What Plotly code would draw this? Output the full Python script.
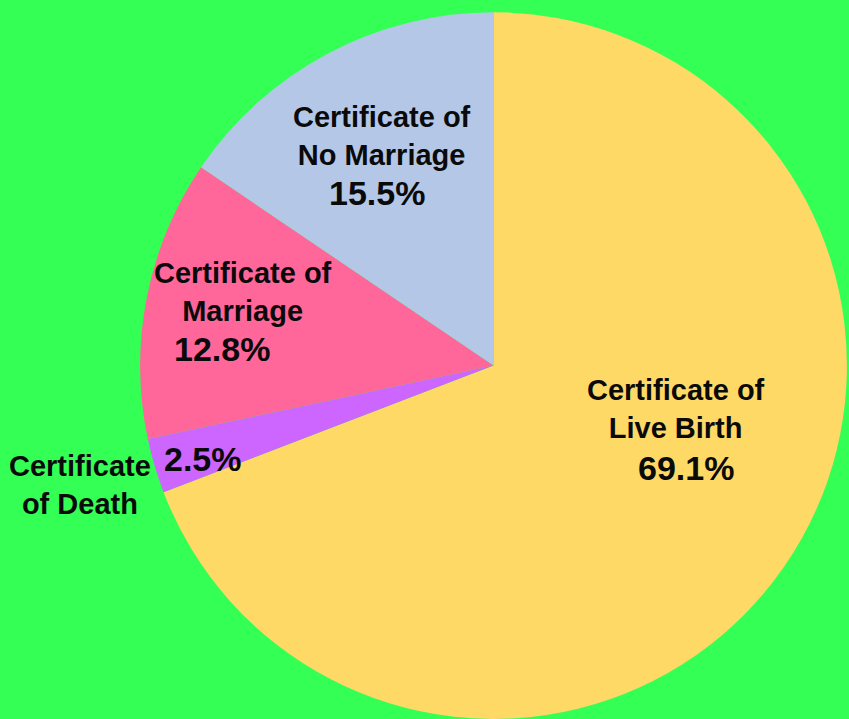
import plotly.graph_objects as go

labels = ["Certificate of Live Birth", "Certificate of Death", "Certificate of Marriage", "Certificate of No Marriage"]
values = [69.1, 2.5, 12.8, 15.5]
colors = ["#FFD966", "#CC66FF", "#FF6699", "#B4C7E7"]
label_text = ["Certificate of<br>Live Birth", "Certificate<br>of Death", "Certificate of<br>Marriage", "Certificate of<br>No Marriage"]
pct_text = ["69.1%", "2.5%", "12.8%", "15.5%"]

W, H = 849, 719
BG = "#33FF55"
# label anchor positions (pixels) : label center and percentage center
label_pos = [(676, 409), (80, 485), (243, 292), (382, 136)]
pct_pos = [(686, 468), (203, 459), (222, 349), (377, 193)]

fig = go.Figure(go.Pie(
    labels=labels, values=values, sort=False, direction="clockwise", rotation=0,
    marker=dict(colors=colors, line=dict(width=0)),
    textinfo="none", showlegend=False,
    domain=dict(x=[0.1649, 0.9977], y=[0.0, 0.983]),
))

def px(x, y):
    return x / W, 1 - y / H

anns = []
for t, (lx, ly), p, (qx, qy) in zip(label_text, label_pos, pct_text, pct_pos):
    ax, ay = px(lx, ly)
    anns.append(dict(x=ax, y=ay, xref="paper", yref="paper", text="<b>" + t + "</b>",
                     showarrow=False, xanchor="center", yanchor="middle",
                     font=dict(family="Liberation Sans", size=29, color="#0a0a0a")))
    bx, by = px(qx, qy)
    anns.append(dict(x=bx, y=by, xref="paper", yref="paper", text="<b>" + p + "</b>",
                     showarrow=False, xanchor="center", yanchor="middle",
                     font=dict(family="Liberation Sans", size=34, color="#0a0a0a")))

fig.update_layout(
    width=W, height=H, margin=dict(l=0, r=0, t=0, b=0),
    paper_bgcolor=BG, plot_bgcolor=BG,
    annotations=anns,
)
fig.write_html("out.html", config={"displayModeBar": False})

with open("out.html", "r", encoding="utf-8") as f:
    html = f.read()
html = html.replace("<head>", "<head><style>html,body{margin:0;padding:0;overflow:hidden;background:%s;}</style>" % BG, 1)
with open("out.html", "w", encoding="utf-8") as f:
    f.write(html)
